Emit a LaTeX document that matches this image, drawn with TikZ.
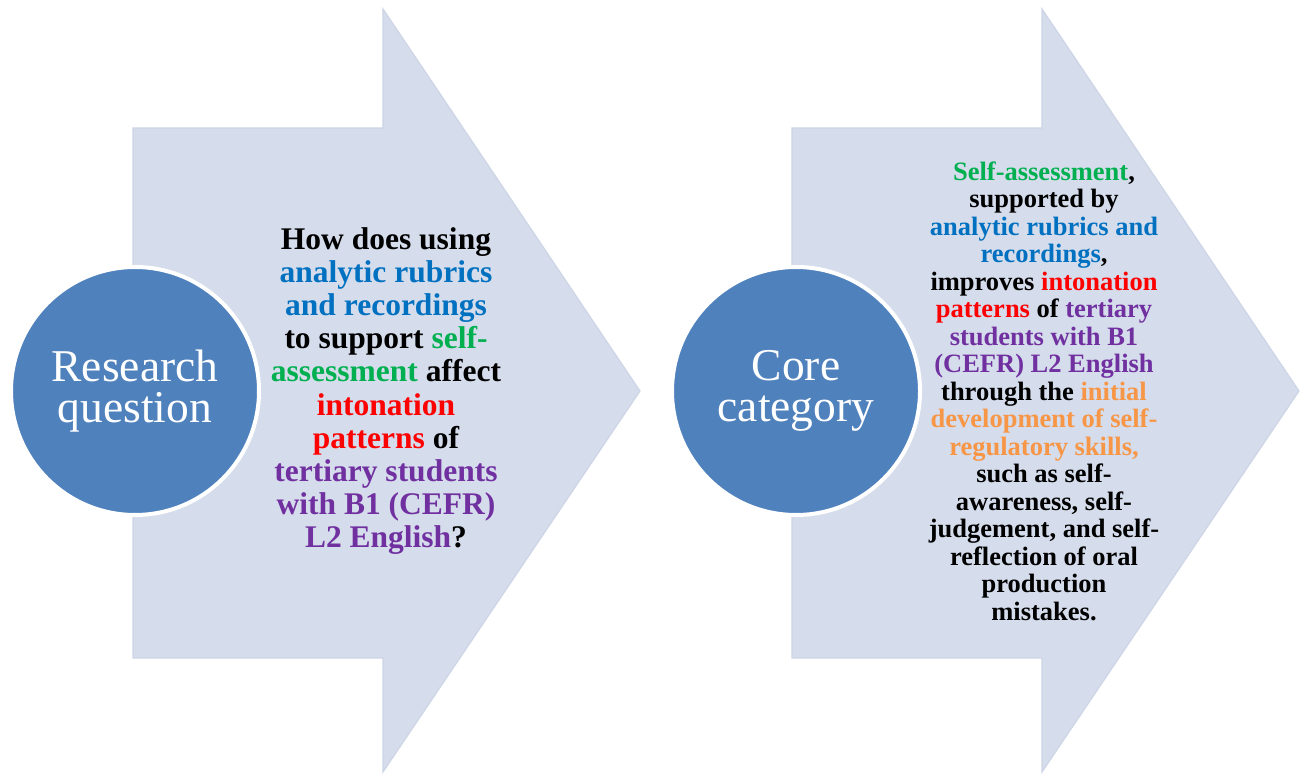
\documentclass[tikz,border=0pt]{standalone}
\usepackage{fontspec}
\setmainfont{Liberation Serif}
\definecolor{arrowfill}{RGB}{213,220,235}
\definecolor{arrowline}{RGB}{205,213,230}
\definecolor{bubblefill}{RGB}{79,129,189}
\definecolor{rqblue}{RGB}{0,112,192}
\definecolor{rqgreen}{RGB}{0,176,80}
\definecolor{rqred}{RGB}{255,0,0}
\definecolor{rqpurple}{RGB}{112,48,160}
\definecolor{rqorange}{RGB}{247,150,70}
\begin{document}
\begin{tikzpicture}[x=1pt,y=1pt,
  arrowshape/.style={fill=arrowfill,draw=arrowline,line width=1.2},
  bubble/.style={circle,fill=bubblefill,draw=white,line width=4,minimum size=248,inner sep=0,
    text=white,align=center,font=\fontsize{45.5}{41}\selectfont},
  bigtext/.style={align=center,font=\fontsize{31.5}{33.1}\selectfont\bfseries},
  smalltext/.style={align=center,font=\fontsize{26.5}{27.5}\selectfont\bfseries}]
\useasboundingbox (0,0) rectangle (1301,774);
% the two block arrows
\foreach \dx in {0,659}
  \filldraw[arrowshape] (133+\dx,116) -- (133+\dx,646) -- (383+\dx,646) -- (383+\dx,765)
    -- (640+\dx,383) -- (383+\dx,2) -- (383+\dx,116) -- cycle;
% circles
\node[bubble] (research) at (135,383) {Research\\question};
\node[bubble] (core) at (796,383) {Core\\category};
% texts in the arrows
\node[bigtext] (question) at (386,383) {How does using\\
  \textcolor{rqblue}{analytic rubrics}\\
  \textcolor{rqblue}{and recordings}\\
  to support \textcolor{rqgreen}{self-}\\
  \textcolor{rqgreen}{assessment} affect\\
  \textcolor{rqred}{intonation}\\
  \textcolor{rqred}{patterns} of\\
  \textcolor{rqpurple}{tertiary students}\\
  \textcolor{rqpurple}{with B1 (CEFR)}\\
  \textcolor{rqpurple}{L2 English}?};
\node[smalltext] (category) at (1044,383) {\textcolor{rqgreen}{Self-assessment},\\
  supported by\\
  \textcolor{rqblue}{analytic rubrics and}\\
  \textcolor{rqblue}{recordings},\\
  improves \textcolor{rqred}{intonation}\\
  \textcolor{rqred}{patterns} of \textcolor{rqpurple}{tertiary}\\
  \textcolor{rqpurple}{students with B1}\\
  \textcolor{rqpurple}{(CEFR) L2 English}\\
  through the \textcolor{rqorange}{initial}\\
  \textcolor{rqorange}{development of self-}\\
  \textcolor{rqorange}{regulatory skills,}\\
  such as self-\\
  awareness, self-\\
  judgement, and self-\\
  reflection of oral\\
  production\\
  mistakes.};
\end{tikzpicture}
\end{document}
